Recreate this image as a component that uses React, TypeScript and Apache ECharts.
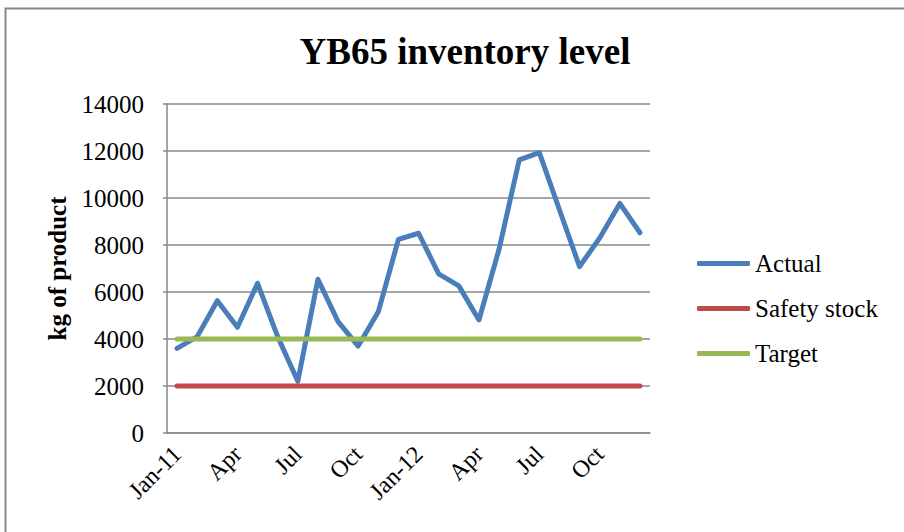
import React, { useEffect, useRef } from "react";
import * as echarts from "echarts";

const months = [
  "Jan-11", "Feb-11", "Mar-11", "Apr-11", "May-11", "Jun-11", "Jul-11", "Aug-11", "Sep-11", "Oct-11", "Nov-11", "Dec-11",
  "Jan-12", "Feb-12", "Mar-12", "Apr-12", "May-12", "Jun-12", "Jul-12", "Aug-12", "Sep-12", "Oct-12", "Nov-12", "Dec-12",
];
const tickLabels = ["Jan-11", "Apr", "Jul", "Oct", "Jan-12", "Apr", "Jul", "Oct"];
const actual = [3600, 4100, 5630, 4500, 6370, 4100, 2200, 6540, 4740, 3700, 5160, 8240, 8500, 6770, 6260, 4810, 7820, 11620, 11930, 9500, 7080, 8300, 9770, 8520];
const safetyStock = [2000, 2000, 2000, 2000, 2000, 2000, 2000, 2000, 2000, 2000, 2000, 2000, 2000, 2000, 2000, 2000, 2000, 2000, 2000, 2000, 2000, 2000, 2000, 2000];
const target = [4000, 4000, 4000, 4000, 4000, 4000, 4000, 4000, 4000, 4000, 4000, 4000, 4000, 4000, 4000, 4000, 4000, 4000, 4000, 4000, 4000, 4000, 4000, 4000];

const FONT = "'Liberation Serif', 'Times New Roman', serif";

export default function App() {
  const ref = useRef<HTMLDivElement>(null);
  useEffect(() => {
    if (!ref.current) return;
    const chart = echarts.init(ref.current, null, { renderer: "svg" });
    chart.setOption({
      animation: false,
      backgroundColor: "#ffffff",
      title: {
        text: "YB65 inventory level",
        left: 460,
        textAlign: "center",
        top: 28,
        textStyle: { fontFamily: FONT, fontSize: 37, fontWeight: "bold", color: "#000" },
      },
      graphic: [
        {
          type: "rect",
          shape: { x: 5.5, y: 8.5, width: 1000, height: 1000 },
          style: { fill: "none", stroke: "#898989", lineWidth: 2 },
          silent: true,
        },
      ],
      legend: {
        orient: "vertical",
        left: 692,
        top: 246,
        itemWidth: 53,
        itemHeight: 5,
        itemGap: 20,
        icon: "roundRect",
        textStyle: { fontFamily: FONT, fontSize: 25, color: "#000" },
        data: ["Actual", "Safety stock", "Target"],
      },
      grid: { left: 167, top: 104, width: 483, height: 329, containLabel: false },
      xAxis: {
        type: "category",
        data: months,
        boundaryGap: true,
        axisLine: { lineStyle: { color: "#898989", width: 1.5 } },
        axisTick: { show: false },
        axisLabel: {
          interval: 2,
          rotate: 45,
          margin: 17,
          fontFamily: FONT,
          fontSize: 24,
          color: "#000",
          formatter: (_v: string, i: number) => tickLabels[Math.floor(i / 3)] ?? "",
        },
      },
      yAxis: {
        type: "value",
        min: 0,
        max: 14000,
        interval: 2000,
        name: "kg of product",
        nameLocation: "middle",
        nameGap: 97,
        nameTextStyle: { fontFamily: FONT, fontSize: 25, fontWeight: "bold", color: "#000" },
        axisLine: { show: true, lineStyle: { color: "#898989", width: 1.5 } },
        axisTick: { show: true, length: 4, lineStyle: { color: "#898989", width: 1.5 } },
        axisLabel: {
          margin: 23,
          fontFamily: FONT,
          fontSize: 25,
          color: "#000",
          formatter: (v: number) => String(v),
        },
        splitLine: { lineStyle: { color: "#898989", width: 1.5 } },
      },
      series: [
        {
          name: "Actual",
          type: "line",
          data: actual,
          symbol: "none",
          color: "#4a7ebb",
          lineStyle: { width: 5, color: "#4a7ebb", cap: "round", join: "round" },
        },
        {
          name: "Safety stock",
          type: "line",
          data: safetyStock,
          symbol: "none",
          color: "#be4b48",
          lineStyle: { width: 5, color: "#be4b48", cap: "round" },
        },
        {
          name: "Target",
          type: "line",
          data: target,
          symbol: "none",
          color: "#98b954",
          lineStyle: { width: 5, color: "#98b954", cap: "round" },
        },
      ],
    });
    return () => chart.dispose();
  }, []);
  return (
    <div
      ref={ref}
      style={{ position: "fixed", left: 0, top: 0, width: 904, height: 532 }}
    />
  );
}
